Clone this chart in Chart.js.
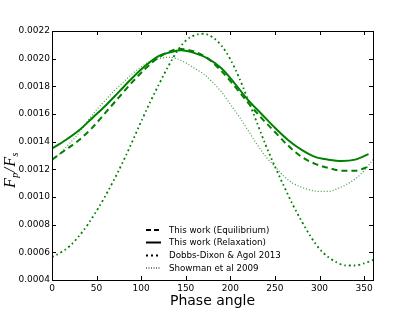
<!DOCTYPE html>
<html>
<head>
<meta charset="utf-8">
<script src="https://cdn.jsdelivr.net/npm/chart.js@4"></script>
<style>
  html, body { margin: 0; padding: 0; background: #fff; }
  #wrap { width: 415px; height: 312px; }
</style>
</head>
<body>
<div id="wrap"><canvas id="chart" width="415" height="312"></canvas></div>
<script>
// Values
const workPhase = [0, 15, 30, 45, 60, 75, 90, 105, 120, 135, 145, 160, 175, 190, 205, 220, 235, 250, 265, 280, 295, 310, 325, 340, 355];
const equilibrium = [0.00127, 0.00134, 0.00141, 0.00150, 0.00161, 0.00172, 0.00183, 0.00193, 0.00201, 0.00206, 0.00207, 0.00205, 0.00200, 0.00191, 0.00180, 0.00168, 0.00157, 0.00147, 0.00137, 0.00129, 0.00124, 0.00121, 0.00119, 0.00119, 0.00122];
const relaxation = [0.00135, 0.00141, 0.00148, 0.00157, 0.00166, 0.00176, 0.00186, 0.00195, 0.00202, 0.00205, 0.00206, 0.00204, 0.00200, 0.00193, 0.00182, 0.00170, 0.00160, 0.00150, 0.00141, 0.00134, 0.00129, 0.00127, 0.00126, 0.00127, 0.00131];

const litPhase = [0, 10, 20, 30, 40, 50, 60, 70, 80, 90, 100, 110, 120, 130, 140, 150, 160, 170, 180, 190, 200, 210, 220, 230, 240, 250, 260, 270, 280, 290, 300, 310, 320, 330, 340, 350, 360];
const dobbsDixon = [0.000565, 0.000600, 0.000646, 0.000715, 0.000800, 0.000900, 0.001010, 0.001130, 0.001260, 0.001400, 0.001545, 0.001685, 0.001815, 0.001940, 0.002050, 0.002130, 0.002170, 0.002180, 0.002155, 0.002095, 0.001995, 0.001860, 0.001700, 0.001535, 0.001370, 0.001220, 0.001080, 0.000945, 0.000825, 0.000715, 0.000625, 0.000565, 0.000525, 0.000505, 0.000505, 0.000520, 0.000545];
const showman = [0.00127, 0.00132, 0.00139, 0.00146, 0.00155, 0.00163, 0.00170, 0.00177, 0.00183, 0.00189, 0.00194, 0.00198, 0.00200, 0.00201, 0.00200, 0.00197, 0.00193, 0.00189, 0.00183, 0.00176, 0.00167, 0.00158, 0.00148, 0.00138, 0.00129, 0.00122, 0.00115, 0.00110, 0.00107, 0.00105, 0.00104, 0.00104, 0.00106, 0.00109, 0.00113, 0.00119, 0.00127];

const xTicks = [0, 50, 100, 150, 200, 250, 300, 350];
const yTicks = [0.0004, 0.0006, 0.0008, 0.0010, 0.0012, 0.0014, 0.0016, 0.0018, 0.0020, 0.0022];

const green = '#008000';

function toPoints(xs, ys) {
  return xs.map((x, i) => ({ x: x, y: ys[i] }));
}

// Frame, inward ticks on all four sides, axis labels and the legend
const decorPlugin = {
  id: 'decor',
  afterDraw(chart) {
    const { ctx, chartArea: area, scales } = chart;
    const { left, right, top, bottom } = area;
    ctx.save();
    ctx.strokeStyle = '#000';
    ctx.lineWidth = 1;
    ctx.strokeRect(Math.round(left) + 0.5, Math.round(top) + 0.5, Math.round(right - left), Math.round(bottom - top));

    ctx.beginPath();
    xTicks.forEach(v => {
      const px = Math.round(scales.x.getPixelForValue(v)) + 0.5;
      ctx.moveTo(px, bottom); ctx.lineTo(px, bottom - 4);
      ctx.moveTo(px, top); ctx.lineTo(px, top + 4);
    });
    yTicks.forEach(v => {
      const py = Math.round(scales.y.getPixelForValue(v)) + 0.5;
      ctx.moveTo(left, py); ctx.lineTo(left + 4, py);
      ctx.moveTo(right, py); ctx.lineTo(right - 4, py);
    });
    ctx.stroke();

    // x title
    ctx.fillStyle = '#000';
    ctx.font = '14px "DejaVu Sans"';
    ctx.textAlign = 'center';
    ctx.textBaseline = 'alphabetic';
    ctx.fillText('Phase angle', (left + right) / 2, 305);

    // y title F_p / F_s
    ctx.save();
    ctx.translate(15, 188);
    ctx.rotate(-Math.PI / 2);
    ctx.textAlign = 'left';
    let cx = 0;
    const big = 'italic 16px "Liberation Serif"';
    const small = 'italic 10px "Liberation Serif"';
    const parts = [['F', big, 0], ['p', small, 3], ['/', big, 0], ['F', big, 0], ['s', small, 3]];
    parts.forEach(([t, f, dy]) => {
      ctx.font = f;
      ctx.fillText(t, cx, dy);
      cx += ctx.measureText(t).width + (t === '/' ? 1 : 0.5);
    });
    ctx.restore();

    // legend
    const rowsY = [230, 242.5, 255.5, 268];
    ctx.font = '8.7px "DejaVu Sans"';
    ctx.textBaseline = 'middle';
    ctx.textAlign = 'left';
    chart.data.datasets.forEach((ds, i) => {
      const y = rowsY[i];
      ctx.save();
      ctx.strokeStyle = '#000';
      ctx.lineWidth = ds.borderWidth;
      ctx.setLineDash(ds.legendDash || []);
      ctx.beginPath();
      ctx.moveTo(146, y);
      ctx.lineTo(161, y);
      ctx.stroke();
      ctx.restore();
      ctx.fillStyle = '#000';
      ctx.fillText(ds.label, 169, y + 0.5);
    });
    ctx.restore();
  }
};

new Chart(document.getElementById('chart'), {
  type: 'line',
  data: {
    datasets: [
      { label: 'This work (Equilibrium)', data: toPoints(workPhase, equilibrium), borderColor: green, borderWidth: 2, borderDash: [6, 4], legendDash: [5, 3] },
      { label: 'This work (Relaxation)', data: toPoints(workPhase, relaxation), borderColor: green, borderWidth: 2, legendDash: [] },
      { label: 'Dobbs-Dixon & Agol 2013', data: toPoints(litPhase, dobbsDixon), borderColor: green, borderWidth: 1.8, borderDash: [2, 3, 1.5, 3], legendDash: [2, 3] },
      { label: 'Showman et al 2009', data: toPoints(litPhase, showman), borderColor: '#3a9e3a', borderWidth: 1.2, borderDash: [1, 2], legendDash: [1, 1.5] }
    ]
  },
  options: {
    responsive: false,
    animation: false,
    layout: { padding: { left: 0, right: 42, top: 31, bottom: 0 } },
    elements: {
      point: { radius: 0 },
      line: { cubicInterpolationMode: 'monotone', fill: false }
    },
    plugins: {
      legend: { display: false },
      tooltip: { enabled: false }
    },
    scales: {
      x: {
        type: 'linear',
        min: 0,
        max: 360,
        afterBuildTicks: scale => { scale.ticks = xTicks.map(v => ({ value: v })); },
        afterFit: scale => { scale.height = 32; },
        grid: { display: false, drawTicks: false },
        border: { display: false },
        ticks: { color: '#000', font: { family: 'DejaVu Sans', size: 9 }, padding: 3, maxRotation: 0 }
      },
      y: {
        type: 'linear',
        min: 0.0004,
        max: 0.0022,
        afterBuildTicks: scale => { scale.ticks = yTicks.map(v => ({ value: v })); },
        afterFit: scale => { scale.width = 52; },
        grid: { display: false, drawTicks: false },
        border: { display: false },
        ticks: { color: '#000', font: { family: 'DejaVu Sans', size: 9 }, padding: 2, callback: v => v.toFixed(4) }
      }
    }
  },
  plugins: [decorPlugin]
});
</script>
</body>
</html>
